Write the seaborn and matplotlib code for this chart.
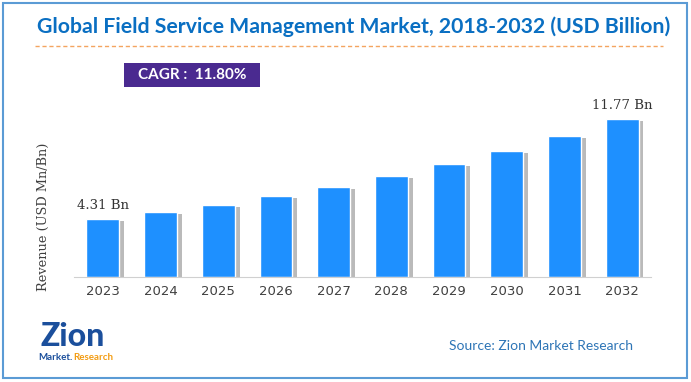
import matplotlib
matplotlib.use("Agg")
import matplotlib.pyplot as plt
import matplotlib.patheffects as pe
from matplotlib.patches import Rectangle
import seaborn as sns
import pandas as pd

# chart data
years = ["2023", "2024", "2025", "2026", "2027", "2028", "2029", "2030", "2031", "2032"]
revenue = [4.31, 4.82, 5.39, 6.02, 6.73, 7.53, 8.41, 9.41, 10.52, 11.77]
first_label = "4.31 Bn"
last_label = "11.77 Bn"
title = "Global Field Service Management Market, 2018-2032 (USD Billion)"
cagr_text = "CAGR :  11.80%"
source_text = "Source: Zion Market Research"

df = pd.DataFrame({"year": years, "revenue": revenue})

sns.set_style("white")
W, H = 691, 382
fig = plt.figure(figsize=(W / 100, H / 100), dpi=100)

def fx(px):
    return px / W

def fy(py):
    return 1 - py / H

# outer border
fig.patches.append(Rectangle((fx(3), fy(378)), fx(684), 375 / H, transform=fig.transFigure,
                             fill=False, edgecolor="#5B9BD5", linewidth=1.5))

# title + dashed line
fig.text(fx(354), fy(27), title, ha="center", va="center", fontsize=15.3,
         fontweight="bold", color="#0A6FC2", family="Lato")
fig.add_artist(plt.Line2D([fx(35), fx(663)], [fy(46), fy(46)], transform=fig.transFigure,
                          color="#F4A460", linestyle=(0, (3, 2)), linewidth=1))

# CAGR box
fig.patches.append(Rectangle((fx(124), fy(87)), fx(136), 24 / H, transform=fig.transFigure,
                             facecolor="#4A2A90", edgecolor="none"))
fig.text(fx(192), fy(75), cagr_text, ha="center", va="center", fontsize=11,
         fontweight="bold", color="white", family="Lato")

# bar axes
ax = fig.add_axes([fx(74), fy(277), fx(651 - 74), (277 - 100) / H])
sns.barplot(data=df, x="year", y="revenue", color="#1E90FF", saturation=1, width=0.57, ax=ax)
for bar in ax.patches:
    bar.set_path_effects([pe.SimplePatchShadow(offset=(3.5, -1.5), shadow_rgbFace="#777777", alpha=0.5),
                          pe.Normal()])

ax.set_xlim(-0.5, 9.5)
ax.set_ylim(0, 177 / 13.42)
ax.set_yticks([])
for side in ["left", "right", "top"]:
    ax.spines[side].set_visible(False)
ax.spines["bottom"].set_color("#D0D0D0")
ax.set_xlabel("")
ax.set_ylabel("")
ax.tick_params(axis="x", length=0, pad=6, labelsize=9.5, labelcolor="#404040")
for lab in ax.get_xticklabels():
    lab.set_family("DejaVu Sans")

ax.text(0, revenue[0] + 0.5, first_label, ha="center", va="bottom", fontsize=9.5,
        family="DejaVu Serif", color="#333333")
ax.text(9, revenue[-1] + 0.5, last_label, ha="center", va="bottom", fontsize=9.5,
        family="DejaVu Serif", color="#333333")

fig.text(fx(43), fy(217), "Revenue (USD Mn/Bn)", rotation=90, ha="center", va="center",
         fontsize=9.3, family="DejaVu Serif", color="#404040")

# logo (text approximation)
fig.text(fx(73), fy(337), "Zion", ha="center", va="center", fontsize=23, fontweight="black",
         color="#1B4F9C", family="Lato")
fig.text(fx(73), fy(358), "Market.", ha="right", va="center", fontsize=7, fontweight="bold",
         color="#1B4F9C", family="Lato")
fig.text(fx(73), fy(358), "Research", ha="left", va="center", fontsize=7, fontweight="bold",
         color="#F39C12", family="Lato")

fig.text(fx(541), fy(346), source_text, ha="center", va="center", fontsize=10,
         color="#2E75B6", family="Lato")

fig.savefig("out.png", dpi=100)
